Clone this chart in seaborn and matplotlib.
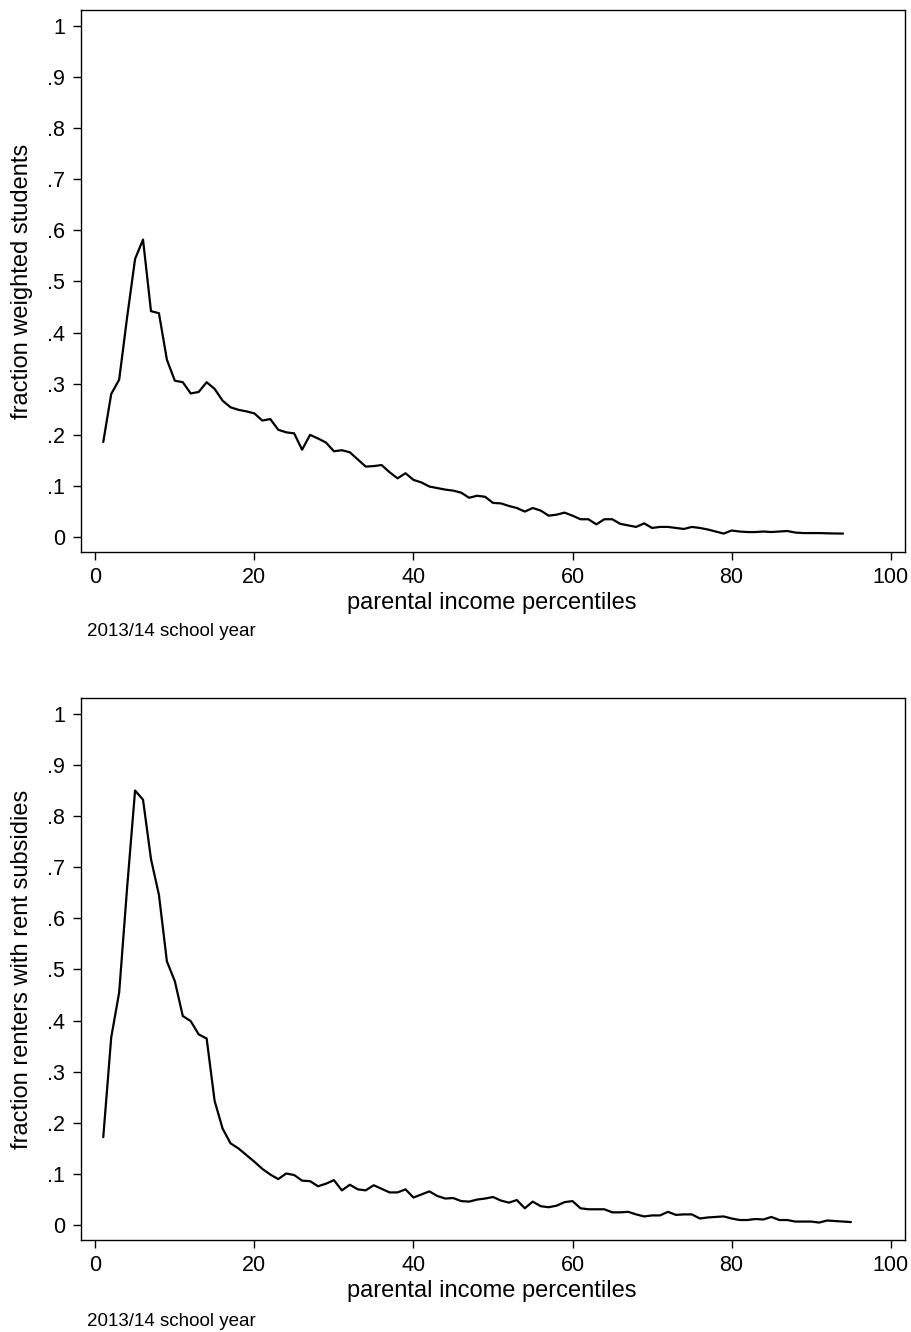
import pandas as pd
import seaborn as sns
import matplotlib
matplotlib.use("Agg")
import matplotlib.pyplot as plt

# percentiles and shares
pct_top = list(range(1, 95))
frac_students = [0.186, 0.280, 0.308, 0.430, 0.544, 0.582, 0.442, 0.438, 0.347, 0.306,
                 0.303, 0.281, 0.284, 0.303, 0.290, 0.267, 0.254, 0.249, 0.246, 0.242,
                 0.228, 0.231, 0.210, 0.205, 0.203, 0.171, 0.200, 0.193, 0.185, 0.168,
                 0.170, 0.166, 0.152, 0.138, 0.139, 0.141, 0.127, 0.115, 0.125, 0.112,
                 0.107, 0.099, 0.096, 0.093, 0.091, 0.087, 0.077, 0.081, 0.079, 0.067,
                 0.066, 0.061, 0.057, 0.050, 0.057, 0.052, 0.042, 0.044, 0.048, 0.042,
                 0.035, 0.035, 0.025, 0.035, 0.035, 0.026, 0.023, 0.020, 0.027, 0.018,
                 0.020, 0.020, 0.018, 0.016, 0.020, 0.018, 0.015, 0.011, 0.007, 0.013,
                 0.011, 0.010, 0.010, 0.011, 0.010, 0.011, 0.012, 0.009, 0.008, 0.008,
                 0.008, 0.0075, 0.0072, 0.007]

pct_bottom = list(range(1, 96))
frac_renters = [0.172, 0.367, 0.455, 0.660, 0.850, 0.832, 0.716, 0.646, 0.516, 0.477,
                0.409, 0.399, 0.373, 0.365, 0.243, 0.189, 0.160, 0.150, 0.137, 0.124,
                0.110, 0.099, 0.090, 0.101, 0.098, 0.087, 0.086, 0.076, 0.081, 0.088,
                0.068, 0.079, 0.070, 0.068, 0.078, 0.071, 0.064, 0.064, 0.070, 0.054,
                0.060, 0.066, 0.057, 0.052, 0.053, 0.047, 0.046, 0.050, 0.052, 0.055,
                0.048, 0.044, 0.049, 0.033, 0.046, 0.037, 0.035, 0.038, 0.045, 0.047,
                0.033, 0.031, 0.031, 0.031, 0.025, 0.025, 0.026, 0.021, 0.017, 0.019,
                0.019, 0.026, 0.020, 0.021, 0.021, 0.013, 0.015, 0.016, 0.017, 0.013,
                0.010, 0.010, 0.012, 0.011, 0.016, 0.010, 0.010, 0.007, 0.007, 0.007,
                0.005, 0.009, 0.008, 0.007, 0.006]

yticks = [0, .1, .2, .3, .4, .5, .6, .7, .8, .9, 1]
ytick_labels = ["0", ".1", ".2", ".3", ".4", ".5", ".6", ".7", ".8", ".9", "1"]
xticks = [0, 20, 40, 60, 80, 100]

sns.set_style("ticks")
plt.rcParams["font.family"] = ["Liberation Sans", "DejaVu Sans"]
plt.rcParams["axes.linewidth"] = 1.0
plt.rcParams["text.color"] = "black"
plt.rcParams["axes.labelcolor"] = "black"
plt.rcParams["xtick.color"] = "black"
plt.rcParams["ytick.color"] = "black"

df_top = pd.DataFrame({"pct": pct_top, "frac": frac_students})
df_bot = pd.DataFrame({"pct": pct_bottom, "frac": frac_renters})

fig = plt.figure(figsize=(9.11, 13.32), dpi=100)
ax1 = fig.add_axes([0.0889, 0.5856, 0.9045, 0.4069])
ax2 = fig.add_axes([0.0889, 0.0691, 0.9045, 0.4069])

panels = [(ax1, df_top, "fraction weighted students", 632),
          (ax2, df_bot, "fraction renters with rent subsidies", 1322)]

for ax, df, ylab, note_y in panels:
    sns.lineplot(data=df, x="pct", y="frac", ax=ax, color="black", linewidth=1.6)
    ax.set_xlim(-1.8, 101.8)
    ax.set_ylim(-0.029, 1.031)
    ax.set_yticks(yticks)
    ax.set_yticklabels(ytick_labels)
    ax.set_xticks(xticks)
    ax.tick_params(axis="both", direction="out", length=5.5, width=1.0, pad=5,
                   labelsize=15.5, colors="black")
    ax.tick_params(axis="y", pad=6)
    ax.set_xlabel("parental income percentiles", fontsize=17)
    ax.set_ylabel(ylab, fontsize=17)
    ax.xaxis.set_label_coords(0.499, -0.074)
    ax.yaxis.set_label_coords(-0.058, 0.5)
    for s in ax.spines.values():
        s.set_visible(True)
        s.set_color("black")
    fig.text(87 / 911, 1 - note_y / 1332, "2013/14 school year", fontsize=13.5,
             va="center", ha="left")

plt.savefig("out.png", dpi=100)
